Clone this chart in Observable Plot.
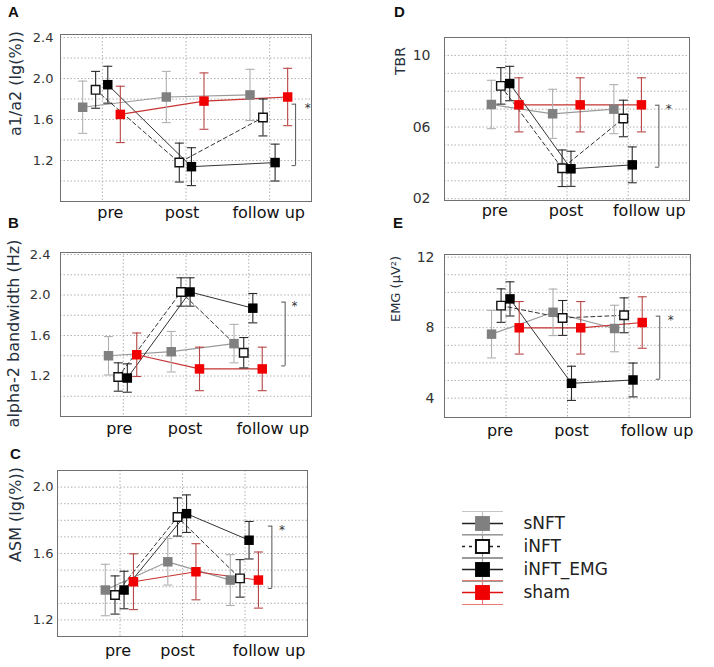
<!DOCTYPE html>
<html><head><meta charset="utf-8">
<script src="https://cdn.jsdelivr.net/npm/d3@7"></script>
<script src="https://cdn.jsdelivr.net/npm/@observablehq/plot@0.6"></script>
<style>
body{margin:0;background:#fff;font-family:"DejaVu Sans",sans-serif}
#wrap{position:relative;width:714px;height:667px;background:#fff}
.panel{position:absolute}
.letter{position:absolute;font:bold 15px "Liberation Sans",Arial,sans-serif;color:#111;line-height:1}
</style></head><body><div id="wrap"></div>
<script>
// ---------- data ----------
const categories = ["pre", "post", "follow up"];
const series = ["sNFT", "iNFT", "iNFT_EMG", "sham"];

// A: a1/a2 (lg(%)) — rows in series order, columns in category order
const a1a2Mean = [[1.72, 1.82, 1.84], [1.89, 1.18, 1.62], [1.94, 1.14, 1.18], [1.65, 1.78, 1.82]];
const a1a2Err  = [[0.255, 0.25, 0.25], [0.18, 0.19, 0.18], [0.18, 0.185, 0.18], [0.275, 0.275, 0.28]];
const a1a2Bracket = [1.15, 1.75];
const a1a2Ticks = [1.2, 1.6, 2.0, 2.4];
const a1a2Grid = [1.0, 1.2, 1.4, 1.6, 1.8, 2.0, 2.2, 2.4];

// B: alpha-2 bandwidth (Hz)
const bwMean = [[1.40, 1.44, 1.52], [1.19, 2.03, 1.43], [1.18, 2.03, 1.87], [1.41, 1.27, 1.27]];
const bwErr  = [[0.19, 0.20, 0.19], [0.14, 0.14, 0.15], [0.14, 0.14, 0.145], [0.215, 0.215, 0.215]];
const bwBracket = [1.30, 1.93];
const bwTicks = [1.2, 1.6, 2.0, 2.4];
const bwGrid = [1.0, 1.2, 1.4, 1.6, 1.8, 2.0, 2.2, 2.4];

// C: ASM (lg(%))
const asmMean = [[1.38, 1.55, 1.44], [1.35, 1.82, 1.45], [1.38, 1.84, 1.68], [1.43, 1.49, 1.44]];
const asmErr  = [[0.155, 0.14, 0.153], [0.115, 0.115, 0.113], [0.113, 0.113, 0.113], [0.168, 0.169, 0.169]];
const asmBracket = [1.39, 1.765];
const asmTicks = [1.2, 1.6, 2.0];
const asmGrid = [1.2, 1.3, 1.4, 1.5, 1.6, 1.7, 1.8, 1.9, 2.0];

// D: TBR
const tbrMean = [[7.26, 6.74, 7.0], [8.3, 3.7, 6.48], [8.43, 3.67, 3.89], [7.24, 7.24, 7.24]];
const tbrErr  = [[1.35, 1.37, 1.37], [1.02, 1.02, 1.02], [0.96, 0.98, 1.0], [1.51, 1.51, 1.51]];
const tbrBracket = [3.76, 7.22];
const tbrTicks = [2, 6, 10];
const tbrTickLabels = ["02", "06", "10"];
const tbrGrid = [2, 3, 4, 5, 6, 7, 8, 9, 10];

// E: EMG (μV²)
const emgMean = [[7.63, 8.87, 7.95], [9.25, 8.55, 8.70], [9.63, 4.84, 5.03], [7.99, 7.99, 8.29]];
const emgErr  = [[1.35, 1.32, 1.32], [0.95, 0.99, 0.99], [0.97, 0.97, 0.96], [1.49, 1.49, 1.46]];
const emgBracket = [5.07, 8.65];
const emgTicks = [4, 8, 12];
const emgGrid = [4, 5, 6, 7, 8, 9, 10, 11, 12];

// ---------- styles ----------
const seriesOffset = [-0.235, -0.08, 0.065, 0.215]; // within-category dodge, in category steps
const sty = {
  sNFT:     {fill: "#808080", stroke: "none",  r: 5.35, line: "#9a9a9a", dash: null,  lw: 1.2, err: "#b0b0b0", legCap: "#c4c4c4", legLine: "#222"},
  iNFT:     {fill: "#ffffff", stroke: "#111",  r: 4.8,  line: "#333",    dash: "4,3", lw: 1.0, err: "#2a2a2a", legCap: "#9a9a9a", legLine: "#222"},
  iNFT_EMG: {fill: "#000000", stroke: "none",  r: 5.35, line: "#333",    dash: null,  lw: 1.0, err: "#2a2a2a", legCap: "#9a9a9a", legLine: "#222"},
  sham:     {fill: "#f00000", stroke: "none",  r: 5.35, line: "#c83232", dash: null,  lw: 1.2, err: "#b84545", legCap: "#e87a7a", legLine: "#e01010"}
};
const hline = (w) => ({draw(ctx) { ctx.moveTo(-w / 2, 0); ctx.lineTo(w / 2, 0); }});
const vline = (h) => ({draw(ctx) { ctx.moveTo(0, -h / 2); ctx.lineTo(0, h / 2); }});
const leftTick = (w) => ({draw(ctx) { ctx.moveTo(-w, 0); ctx.lineTo(0, 0); }});

function panel(cfg) {
  const rows = [];
  series.forEach((s, si) => categories.forEach((c, ci) => {
    const m = cfg.mean[si][ci], e = cfg.err[si][ci];
    rows.push({s, x: ci + seriesOffset[si], y: m, lo: m - e, hi: m + e});
  }));
  const marks = [
    Plot.gridY(cfg.grid, {stroke: "#b0b0b0", strokeOpacity: 1, strokeDasharray: "1.5,2"}),
    Plot.gridX([0, 1, 2], {stroke: "#b0b0b0", strokeOpacity: 1, strokeDasharray: "1.5,2"}),
    Plot.frame({stroke: "#707070"}),
    Plot.axisY(cfg.ticks, {tickSize: 0, tickPadding: cfg.tickPad, fontSize: cfg.tickFont, color: "#333", tickFormat: cfg.fmt, label: null}),
    ...categories.map((c, i) => Plot.axisX([i], {tickSize: 0, tickPadding: cfg.xPad, fontSize: 16, color: "#111", tickFormat: () => c, dx: cfg.labelDx[i], label: null}))
  ];
  for (const s of series) {
    const st = sty[s], d = rows.filter(r => r.s === s);
    marks.push(Plot.line(d, {x: "x", y: "y", stroke: st.line, strokeWidth: st.lw, strokeDasharray: st.dash}));
  }
  for (const s of series) {
    const st = sty[s], d = rows.filter(r => r.s === s);
    marks.push(Plot.ruleX(d, {x: "x", y1: "lo", y2: "hi", stroke: st.err, strokeWidth: 1.1}));
    marks.push(Plot.dot(d, {x: "x", y: "lo", symbol: hline(9), stroke: st.err, strokeWidth: 1.1}));
    marks.push(Plot.dot(d, {x: "x", y: "hi", symbol: hline(9), stroke: st.err, strokeWidth: 1.1}));
  }
  for (const s of series) {
    const st = sty[s], d = rows.filter(r => r.s === s);
    marks.push(Plot.dot(d, {x: "x", y: "y", symbol: "square", r: st.r, fill: st.fill, stroke: st.stroke, strokeWidth: 1.4}));
  }
  // significance bracket
  const bx = 2 + cfg.bracketX;
  marks.push(Plot.ruleX([cfg.bracket], {x: () => bx, y1: d => d[0], y2: d => d[1], stroke: "#555", strokeWidth: 1}));
  marks.push(Plot.dot(cfg.bracket, {x: () => bx, y: d => d, symbol: leftTick(4), stroke: "#555", strokeWidth: 1}));
  marks.push(Plot.text([cfg.bracket[1]], {x: () => 2 + cfg.starX, y: d => d, text: () => "*", fontSize: 12, fill: "#333", dy: 4}));
  // y title
  marks.push(Plot.text([cfg.title], {text: d => d, frameAnchor: "left", textAnchor: "middle", lineAnchor: "middle", rotate: -90, dx: cfg.titleDx, dy: cfg.titleDy, fontSize: cfg.titleFont, fill: "#25303c"}));

  const chart = Plot.plot({
    width: cfg.width, height: cfg.height,
    marginLeft: cfg.m[0], marginRight: cfg.m[1], marginTop: cfg.m[2], marginBottom: cfg.m[3],
    x: {type: "linear", domain: cfg.xDomain},
    y: {type: "linear", domain: cfg.yDomain},
    style: {fontFamily: "DejaVu Sans, sans-serif", background: "transparent", overflow: "visible"},
    marks
  });
  const div = document.createElement("div");
  div.className = "panel";
  div.style.left = cfg.left + "px"; div.style.top = cfg.top + "px";
  div.appendChild(chart);
  document.getElementById("wrap").appendChild(div);
}

const fmt1 = d3.format(".1f");
panel({left: 0, top: 0, width: 340, height: 230, m: [60, 29, 34, 29], xDomain: [-0.5, 2.5], yDomain: [0.8, 2.43],
  mean: a1a2Mean, err: a1a2Err, bracket: a1a2Bracket, ticks: a1a2Ticks, grid: a1a2Grid, fmt: fmt1, tickFont: 13, tickPad: 7, xPad: 5,
  labelDx: [8, -4, -1], bracketX: 0.31, starX: 0.455, title: "a1/a2 (lg(%))", titleFont: 16, titleDx: -45, titleDy: -34.5});
panel({left: 0, top: 218, width: 340, height: 227, m: [60, 29, 34, 29], xDomain: [-1, 3], yDomain: [0.8, 2.42],
  mean: bwMean, err: bwErr, bracket: bwBracket, ticks: bwTicks, grid: bwGrid, fmt: fmt1, tickFont: 13, tickPad: 10, xPad: 6,
  labelDx: [-4, -1, 24], bracketX: 0.58, starX: 0.73, title: "alpha-2 bandwidth (Hz)", titleFont: 16, titleDx: -47, titleDy: -1});
panel({left: 0, top: 436, width: 336, height: 229, m: [57, 29, 34, 29], xDomain: [-1, 3], yDomain: [1.1, 2.1],
  mean: asmMean, err: asmErr, bracket: asmBracket, ticks: asmTicks, grid: asmGrid, fmt: fmt1, tickFont: 13, tickPad: 4, xPad: 8,
  labelDx: [-2, -5, 24], bracketX: 0.43, starX: 0.59, title: "ASM (lg(%))", titleFont: 16, titleDx: -42, titleDy: -39});
panel({left: 357, top: 0, width: 357, height: 229, m: [87, 25, 37, 29], xDomain: [-1, 3], yDomain: [1.9, 11],
  mean: tbrMean, err: tbrErr, bracket: tbrBracket, ticks: tbrTicks, grid: tbrGrid, fmt: d => tbrTickLabels[tbrTicks.indexOf(d)], tickFont: 14, tickPad: 14, xPad: 4,
  labelDx: [-11, -1, 21], bracketX: 0.5, starX: 0.66, title: "TBR", titleFont: 14, titleDx: -44, titleDy: -58});
panel({left: 357, top: 218, width: 357, height: 228, m: [87, 24, 36, 29], xDomain: [-1, 3], yDomain: [2.9, 12.15],
  mean: emgMean, err: emgErr, bracket: emgBracket, ticks: emgTicks, grid: emgGrid, fmt: d => String(d), tickFont: 14, tickPad: 10, xPad: 7,
  labelDx: [-6, 4, 28], bracketX: 0.5, starX: 0.68, title: "EMG (μV²)", titleFont: 13, titleDx: -49, titleDy: -47});

// panel letters
[["A", 8, 4], ["B", 8, 215], ["C", 10, 446], ["D", 394, 4], ["E", 393, 215]].forEach(([t, x, y]) => {
  const el = document.createElement("div");
  el.className = "letter"; el.textContent = t;
  el.style.left = x + "px"; el.style.top = y + "px";
  document.getElementById("wrap").appendChild(el);
});

// legend
const legendMarks = [
  Plot.dot(series, {y: d => d, frameAnchor: "left", dx: 42, dy: -12, symbol: hline(41), stroke: d => sty[d].legCap, strokeWidth: 1.2}),
  Plot.dot(series, {y: d => d, frameAnchor: "left", dx: 42, dy: 12, symbol: hline(41), stroke: d => sty[d].legCap, strokeWidth: 1.2}),
  Plot.dot(series, {y: d => d, frameAnchor: "left", dx: 42, symbol: vline(24), stroke: d => sty[d].legCap, strokeWidth: 1.2})
];
for (const s of series) {
  const st = sty[s];
  legendMarks.push(Plot.dot([s], {y: d => d, frameAnchor: "left", dx: 42, symbol: hline(41), stroke: st.legLine, strokeWidth: 1.6, strokeDasharray: st.dash ? "3,4" : null}));
  legendMarks.push(Plot.dot([s], {y: d => d, frameAnchor: "left", dx: 42, symbol: "square", r: st.stroke === "none" ? 8.4 : 7.4, fill: st.fill, stroke: st.stroke === "none" ? "none" : "#111", strokeWidth: 2}));
}
legendMarks.push(Plot.text(series, {y: d => d, frameAnchor: "left", dx: 83, text: d => d, textAnchor: "start", fontSize: 17, fill: "#222"}));
const legend = Plot.plot({
  width: 220, height: 135, margin: 0,
  y: {type: "point", domain: series, range: [20, 114], axis: null},
  color: {type: "identity"},
  style: {fontFamily: "DejaVu Sans, sans-serif", background: "transparent", overflow: "visible"},
  marks: legendMarks
});
const ld = document.createElement("div");
ld.className = "panel"; ld.style.left = "440px"; ld.style.top = "490px";
ld.appendChild(legend);
document.getElementById("wrap").appendChild(ld);
</script></body></html>
